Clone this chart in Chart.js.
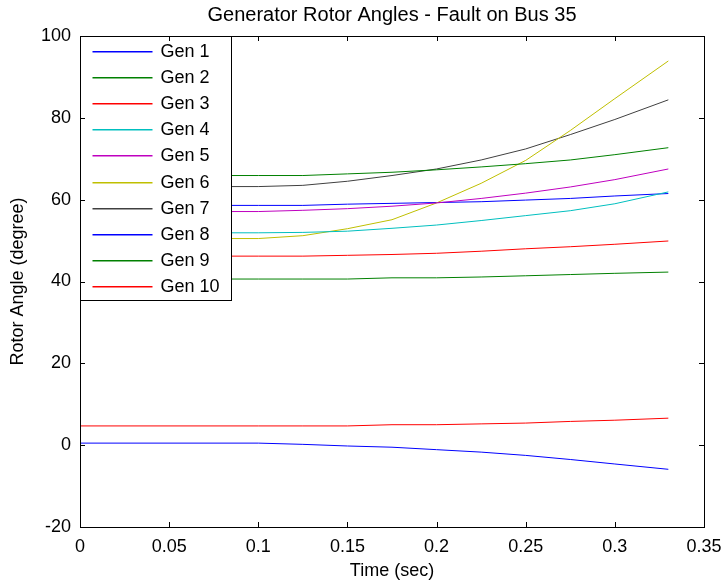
<!DOCTYPE html>
<html>
<head>
<meta charset="utf-8">
<script src="https://cdn.jsdelivr.net/npm/chart.js@4/dist/chart.umd.min.js"></script>
<style>
  html, body { margin: 0; padding: 0; background: #fff; }
  canvas { display: block; }
</style>
</head>
<body>
<canvas id="rotorChart" width="725" height="583"></canvas>
<script>
// time axis (sec)
const times = [0, 0.1, 0.125, 0.15, 0.175, 0.2, 0.225, 0.25, 0.275, 0.3, 0.33];

// rotor angles (degree)
const gen1  = [0.5, 0.5, 0.2, -0.2, -0.5, -1.1, -1.7, -2.5, -3.5, -4.6, -5.9];
const gen2  = [65.9, 65.9, 65.9, 66.3, 66.7, 67.3, 68.0, 68.8, 69.7, 71.0, 72.7];
const gen3  = [4.7, 4.7, 4.7, 4.7, 5.0, 5.0, 5.2, 5.4, 5.8, 6.1, 6.6];
const gen4  = [51.9, 51.9, 52.0, 52.3, 53.0, 53.8, 54.9, 56.1, 57.3, 59.0, 61.9];
const gen5  = [57.1, 57.1, 57.4, 57.8, 58.4, 59.2, 60.3, 61.6, 63.1, 64.9, 67.5];
const gen6  = [50.5, 50.5, 51.2, 52.9, 55.1, 59.2, 64.0, 69.6, 76.9, 84.7, 93.9];
const gen7  = [63.2, 63.2, 63.5, 64.5, 65.9, 67.5, 69.7, 72.4, 75.9, 79.6, 84.4];
const gen8  = [58.6, 58.6, 58.6, 58.9, 59.1, 59.3, 59.5, 59.9, 60.3, 60.9, 61.5];
const gen9  = [40.6, 40.6, 40.6, 40.6, 40.9, 40.9, 41.1, 41.4, 41.7, 42.0, 42.3];
const gen10 = [46.2, 46.2, 46.2, 46.4, 46.6, 46.9, 47.4, 48.0, 48.5, 49.1, 49.9];

const seriesNames = ['Gen 1', 'Gen 2', 'Gen 3', 'Gen 4', 'Gen 5', 'Gen 6', 'Gen 7', 'Gen 8', 'Gen 9', 'Gen 10'];
const seriesValues = [gen1, gen2, gen3, gen4, gen5, gen6, gen7, gen8, gen9, gen10];

const xTicks = [0, 0.05, 0.1, 0.15, 0.2, 0.25, 0.3, 0.35];
const yTicks = [-20, 0, 20, 40, 60, 80, 100];

// matlab default colour order
const colours = ['#0000ff', '#008000', '#ff0000', '#00bfbf', '#bf00bf', '#bfbf00', '#404040'];
const colourOf = i => colours[i % colours.length];

const FONT = 'Liberation Sans, Arial, Helvetica, sans-serif';

const datasets = seriesNames.map((name, i) => ({
    label: name,
    data: times.map((t, j) => ({ x: t, y: seriesValues[i][j] })),
    borderColor: colourOf(i),
    backgroundColor: colourOf(i),
    borderWidth: 1,
    pointRadius: 0,
    tension: 0,
    fill: false,
}));

// inward tick marks + box round the axes
const boxTicks = {
    id: 'boxTicks',
    afterDraw(chart) {
        const { ctx, chartArea: a, scales } = chart;
        const len = 5;
        ctx.save();
        ctx.strokeStyle = '#000';
        ctx.lineWidth = 1;
        ctx.beginPath();
        xTicks.forEach(v => {
            const px = Math.round(scales.x.getPixelForValue(v)) + 0.5;
            ctx.moveTo(px, a.bottom); ctx.lineTo(px, a.bottom - len);
            ctx.moveTo(px, a.top); ctx.lineTo(px, a.top + len);
        });
        yTicks.forEach(v => {
            const py = Math.round(scales.y.getPixelForValue(v)) + 0.5;
            ctx.moveTo(a.left, py); ctx.lineTo(a.left + len, py);
            ctx.moveTo(a.right, py); ctx.lineTo(a.right - len, py);
        });
        ctx.stroke();
        ctx.strokeRect(Math.round(a.left) + 0.5, Math.round(a.top) + 0.5,
            Math.round(a.right - a.left), Math.round(a.bottom - a.top));
        ctx.restore();
    }
};

// legend box in the upper left corner of the axes
const boxLegend = {
    id: 'boxLegend',
    afterDatasetsDraw(chart) {
        const { ctx, chartArea: a } = chart;
        const x0 = Math.round(a.left) + 0.5, y0 = Math.round(a.top) + 0.5;
        const w = 151, h = 264, rowH = 26.1;
        ctx.save();
        ctx.fillStyle = '#fff';
        ctx.fillRect(x0, y0, w, h);
        ctx.lineWidth = 1;
        ctx.strokeStyle = '#000';
        ctx.strokeRect(x0, y0, w, h);
        ctx.font = '18px ' + FONT;
        ctx.textBaseline = 'middle';
        ctx.textAlign = 'left';
        seriesNames.forEach((name, i) => {
            const y = Math.round(a.top + 15 + i * rowH);
            ctx.fillStyle = colourOf(i);
            ctx.fillRect(x0 + 12, y, 60, 1.5);
            ctx.fillStyle = '#000';
            ctx.fillText(name, x0 + 80, y + 1);
        });
        ctx.restore();
    }
};

// keep the axes box at fixed margins (no label overhang padding)
const noPad = s => { s.paddingLeft = 0; s.paddingRight = 0; s.paddingTop = 0; s.paddingBottom = 0; };

const ctx = document.getElementById('rotorChart').getContext('2d');

new Chart(ctx, {
    type: 'line',
    data: { datasets: datasets },
    options: {
        responsive: false,
        animation: false,
        devicePixelRatio: 1,
        layout: { padding: { left: 0, right: 21, top: 0, bottom: 0 } },
        plugins: {
            legend: { display: false },
            tooltip: { enabled: false },
            title: {
                display: true,
                text: 'Generator Rotor Angles - Fault on Bus 35',
                fullSize: false,
                color: '#000',
                font: { family: FONT, size: 20, weight: 'normal' },
                padding: { top: 3, bottom: 9 },
            }
        },
        scales: {
            x: {
                type: 'linear',
                min: 0,
                max: 0.35,
                afterFit: s => { s.height = 56; noPad(s); },
                afterBuildTicks: s => { s.ticks = xTicks.map(v => ({ value: v })); },
                grid: { display: false, drawTicks: false },
                border: { display: false },
                ticks: {
                    color: '#000',
                    padding: 9,
                    maxRotation: 0,
                    autoSkip: false,
                    font: { family: FONT, size: 18 },
                    callback: v => String(Number(v.toFixed(2))),
                },
                title: {
                    display: true,
                    text: 'Time (sec)',
                    color: '#000',
                    font: { family: FONT, size: 18 },
                    padding: { top: 0, bottom: 1 },
                }
            },
            y: {
                min: -20,
                max: 100,
                afterFit: s => { s.width = 80; noPad(s); },
                afterBuildTicks: s => { s.ticks = yTicks.map(v => ({ value: v })); },
                grid: { display: false, drawTicks: false },
                border: { display: false },
                ticks: {
                    color: '#000',
                    padding: 9,
                    autoSkip: false,
                    font: { family: FONT, size: 18 },
                },
                title: {
                    display: true,
                    text: 'Rotor Angle (degree)',
                    color: '#000',
                    font: { family: FONT, size: 18 },
                    padding: { top: 7, bottom: 0 },
                }
            }
        }
    },
    plugins: [boxLegend, boxTicks]
});
</script>
</body>
</html>
